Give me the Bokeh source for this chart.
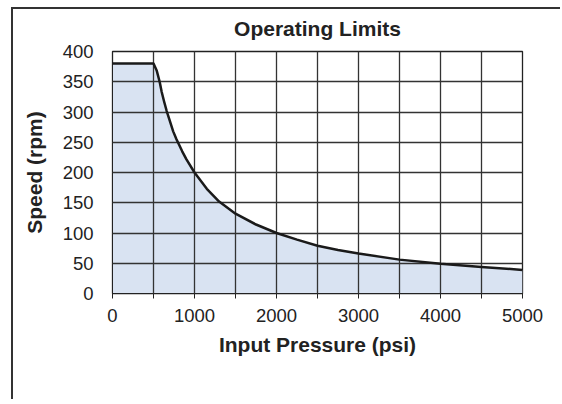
from bokeh.plotting import figure
from bokeh.embed import file_html
from bokeh.resources import INLINE
from bokeh.models import FixedTicker, Range1d, LinearAxis

pressure = [0, 500, 540, 575, 600, 630, 660, 700, 740, 780, 850, 900, 1000, 1150, 1300,
            1500, 1750, 2000, 2250, 2500, 2750, 3000, 3500, 4000, 4500, 5000]
speed = [380, 380, 368, 350, 333, 317, 302, 285, 268, 255, 235, 222, 200, 173, 152,
         132, 114, 100, 89, 79, 72, 66, 56, 49, 44, 39]

x_ticks = [0, 1000, 2000, 3000, 4000, 5000]
x_minor = [500, 1500, 2500, 3500, 4500]
y_ticks = [0, 50, 100, 150, 200, 250, 300, 350, 400]

title_text = "Operating Limits"
FONT = "Liberation Sans"

p = figure(width=549, height=392, output_backend="svg", toolbar_location=None, tools="",
           x_range=Range1d(0, 5000), y_range=Range1d(0, 400),
           min_border_left=99, min_border_right=40, min_border_top=42, min_border_bottom=108)
p.toolbar.logo = None
p.styles = {"border-left": "2px solid #333", "border-top": "2px solid #333",
            "margin-left": "11px", "margin-top": "7px", "overflow": "hidden"}

xa = p.below[0]
ya = p.left[0]

# chart title drawn as the label of a bare axis above the frame
title_axis = LinearAxis(axis_label=title_text, ticker=FixedTicker(ticks=[]),
                        axis_line_color=None, major_tick_line_color=None,
                        minor_tick_line_color=None, major_tick_out=0, major_tick_in=0,
                        minor_tick_out=0, minor_tick_in=0, major_label_standoff=0,
                        major_label_text_font_size="0px",
                        axis_label_standoff=12, axis_label_text_font=FONT,
                        axis_label_text_font_size="21px", axis_label_text_font_style="bold",
                        axis_label_text_color="#222")
p.add_layout(title_axis, "above")

p.varea(x=pressure, y1=0, y2=speed, fill_color="#d9e3f2", fill_alpha=1.0)

xa.ticker = FixedTicker(ticks=x_ticks, minor_ticks=x_minor)
ya.ticker = FixedTicker(ticks=y_ticks)
p.xgrid.ticker = FixedTicker(ticks=sorted(x_ticks + x_minor))
for g in (p.xgrid[0], p.ygrid[0]):
    g.grid_line_color = "#333333"
    g.grid_line_width = 1.3
    g.grid_line_alpha = 1.0
    g.level = "annotation"

p.line(pressure, speed, line_color="#1a1a1a", line_width=2.5, level="overlay",
       line_join="round")

p.outline_line_color = "#222"
p.outline_line_width = 1.3
p.outline_line_alpha = 1.0

for ax in (xa, ya):
    ax.axis_line_color = "#222"
    ax.major_label_text_font = FONT
    ax.major_label_text_font_size = "18.5px"
    ax.major_label_text_color = "#222"
    ax.axis_label_text_font = FONT
    ax.axis_label_text_font_size = "21px"
    ax.axis_label_text_font_style = "bold"
    ax.axis_label_text_color = "#222"

xa.axis_label = "Input Pressure (psi)"
xa.major_tick_out = 5
xa.major_tick_in = 0
xa.minor_tick_out = 5
xa.minor_tick_in = 0
xa.major_tick_line_color = "#222"
xa.minor_tick_line_color = "#222"
xa.major_label_standoff = 10
xa.axis_label_standoff = 8

ya.axis_label = "Speed (rpm)"
ya.major_tick_out = 0
ya.major_tick_in = 0
ya.minor_tick_out = 0
ya.minor_tick_in = 0
ya.major_tick_line_color = None
ya.minor_tick_line_color = None
ya.major_label_standoff = 19
ya.axis_label_standoff = 14

open("out.html", "w").write(file_html(p, INLINE))
